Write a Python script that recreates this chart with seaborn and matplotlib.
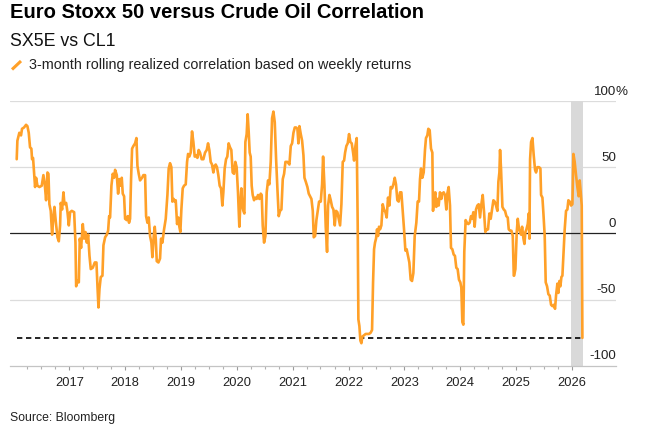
import matplotlib
matplotlib.use("Agg")
import numpy as np
import pandas as pd
import matplotlib.pyplot as plt
import matplotlib.dates as mdates
from matplotlib.lines import Line2D
from matplotlib.ticker import FixedLocator
import seaborn as sns

# ---------------- data ----------------
title = "Euro Stoxx 50 versus Crude Oil Correlation"
subtitle = "SX5E vs CL1"
legend_label = "3-month rolling realized correlation based on weekly returns"
source_note = "Source: Bloomberg"

# observation time (decimal year) and 3M rolling correlation (%)
time_years = [
    2016.060, 2016.072, 2016.107, 2016.137, 2016.155, 2016.191, 2016.227, 2016.251, 2016.275, 2016.298,
    2016.322, 2016.334, 2016.352, 2016.370, 2016.388, 2016.406, 2016.430, 2016.466, 2016.507, 2016.537,
    2016.561, 2016.585, 2016.609, 2016.627, 2016.644, 2016.668, 2016.692, 2016.716, 2016.734, 2016.758,
    2016.788, 2016.812, 2016.835, 2016.847, 2016.871, 2016.895, 2016.913, 2016.943, 2016.967, 2016.991,
    2017.014, 2017.044, 2017.086, 2017.110, 2017.122, 2017.146, 2017.170, 2017.187, 2017.211, 2017.241,
    2017.265, 2017.289, 2017.313, 2017.337, 2017.361, 2017.384, 2017.420, 2017.456, 2017.486, 2017.504,
    2017.522, 2017.540, 2017.563, 2017.593, 2017.611, 2017.641, 2017.671, 2017.695, 2017.713, 2017.730,
    2017.754, 2017.778, 2017.802,
    2017.820, 2017.850, 2017.874, 2017.897, 2017.921, 2017.939, 2017.957, 2017.981, 2017.999, 2018.029,
    2018.047, 2018.070, 2018.088, 2018.106, 2018.124, 2018.148, 2018.178, 2018.202, 2018.220, 2018.243,
    2018.267, 2018.303, 2018.327, 2018.357, 2018.375, 2018.399, 2018.422, 2018.446, 2018.470, 2018.488,
    2018.512, 2018.530, 2018.548, 2018.566, 2018.596, 2018.625, 2018.643, 2018.667, 2018.697, 2018.727,
    2018.757, 2018.780, 2018.804, 2018.828, 2018.846, 2018.870, 2018.888, 2018.906, 2018.930, 2018.953,
    2018.971, 2018.989, 2019.007, 2019.031, 2019.055, 2019.085, 2019.109, 2019.127, 2019.150, 2019.174,
    2019.198, 2019.222, 2019.246, 2019.270, 2019.294, 2019.317, 2019.341, 2019.371, 2019.401, 2019.431,
    2019.461, 2019.485, 2019.508, 2019.532, 2019.556, 2019.580, 2019.604,
    2019.622, 2019.645, 2019.669, 2019.693, 2019.717, 2019.741, 2019.759, 2019.783, 2019.807, 2019.830,
    2019.854, 2019.878, 2019.902, 2019.926, 2019.950, 2019.974, 2019.997, 2020.021, 2020.045, 2020.063,
    2020.081, 2020.099, 2020.117, 2020.135, 2020.153, 2020.176, 2020.194, 2020.212, 2020.230, 2020.248,
    2020.266, 2020.284, 2020.308, 2020.332, 2020.355, 2020.379, 2020.403, 2020.427, 2020.445, 2020.463,
    2020.487, 2020.511, 2020.534, 2020.558, 2020.582, 2020.606, 2020.630, 2020.654, 2020.678, 2020.702,
    2020.725, 2020.749, 2020.773, 2020.797, 2020.821, 2020.845, 2020.869, 2020.904, 2020.940, 2020.964,
    2020.988, 2021.012, 2021.036, 2021.060, 2021.083, 2021.101, 2021.119, 2021.143, 2021.167, 2021.191,
    2021.209, 2021.233, 2021.262, 2021.286, 2021.310, 2021.334, 2021.358, 2021.376, 2021.394,
    2021.400, 2021.423, 2021.447, 2021.471, 2021.501, 2021.525, 2021.543, 2021.567, 2021.590, 2021.614,
    2021.632, 2021.656, 2021.680, 2021.704, 2021.728, 2021.752, 2021.775, 2021.799, 2021.823, 2021.847,
    2021.871, 2021.895, 2021.919, 2021.937, 2021.960, 2021.984, 2022.008, 2022.032, 2022.056, 2022.080,
    2022.098, 2022.122, 2022.145, 2022.163, 2022.175, 2022.193, 2022.211, 2022.229, 2022.247, 2022.277,
    2022.306, 2022.336, 2022.366, 2022.396, 2022.420, 2022.438, 2022.456, 2022.473, 2022.491, 2022.509,
    2022.527, 2022.545, 2022.563, 2022.587, 2022.611, 2022.635, 2022.659, 2022.682, 2022.706, 2022.730,
    2022.754, 2022.778, 2022.802, 2022.826, 2022.849, 2022.873, 2022.897, 2022.921, 2022.945, 2022.969,
    2022.993, 2023.017, 2023.040, 2023.064, 2023.088, 2023.112, 2023.136, 2023.160, 2023.184,
    2023.213, 2023.237, 2023.261, 2023.279, 2023.297, 2023.321, 2023.345, 2023.368, 2023.386, 2023.410,
    2023.428, 2023.452, 2023.476, 2023.500, 2023.512, 2023.530, 2023.553, 2023.571, 2023.595, 2023.613,
    2023.637, 2023.661, 2023.679, 2023.703, 2023.726, 2023.750, 2023.768, 2023.792, 2023.816, 2023.834,
    2023.858, 2023.882, 2023.905, 2023.929, 2023.953, 2023.977, 2024.001, 2024.019, 2024.037, 2024.055,
    2024.072, 2024.096, 2024.120, 2024.144, 2024.168, 2024.192, 2024.210, 2024.234, 2024.257, 2024.281,
    2024.305, 2024.329, 2024.353, 2024.377, 2024.401, 2024.425, 2024.448, 2024.472, 2024.496, 2024.520,
    2024.544, 2024.568, 2024.592, 2024.615, 2024.639, 2024.663, 2024.681, 2024.699, 2024.711, 2024.729,
    2024.753, 2024.777, 2024.800, 2024.824, 2024.848, 2024.866, 2024.890, 2024.914, 2024.938, 2024.956,
    2024.962, 2024.985, 2025.009, 2025.027, 2025.051, 2025.069, 2025.087, 2025.105, 2025.129, 2025.147,
    2025.164, 2025.182, 2025.206, 2025.224, 2025.236, 2025.248, 2025.266, 2025.290, 2025.313, 2025.337,
    2025.355, 2025.379, 2025.409, 2025.433, 2025.445, 2025.469, 2025.487, 2025.510, 2025.528, 2025.552,
    2025.576, 2025.600, 2025.624, 2025.648, 2025.672, 2025.695, 2025.713, 2025.737, 2025.755, 2025.773,
    2025.791, 2025.809, 2025.827, 2025.851, 2025.868, 2025.892, 2025.916, 2025.934, 2025.958, 2025.982,
    2026.006, 2026.024, 2026.047, 2026.071, 2026.095, 2026.119, 2026.137, 2026.155, 2026.173, 2026.185,
]
correlation = [
    56, 70, 76, 74, 79, 80, 82, 81, 76, 65,
    64, 56, 57, 46, 35, 42, 36, 35, 36, 44,
    37, 25, 46, 45, 22, 17, -1, 13, 20, 9,
    -3, -6, 6, 23, 18, 31, 22, 23, 16, 6,
    16, 17, 16, -7, -40, -36, -37, -4, -11, 7,
    -4, 1, -7, -1, -17, -27, -26, -22, -22, -40,
    -56, -42, -33, -32, -9, -3, -1, 2, 13, 12,
    36, 45, 42,
    48, 44, 30, 41, 36, 42, 30, 28, 11, 10,
    13, 8, 11, 41, 64, 66, 68, 72, 51, 45,
    40, 42, 44, 44, 13, 8, 12, -2, -7, -18,
    -2, 5, -4, -21, -22, -19, -4, -7, 3, 11,
    29, 49, 53, 50, 24, 26, 24, 25, 7, 12,
    5, 1, 18, 34, 36, 37, 54, 60, 58, 61,
    77, 69, 58, 59, 57, 63, 61, 56, 56, 61,
    63, 68, 63, 54, 52, 46, 51,
    52, 50, 44, 36, 34, 21, 31, 49, 56, 58,
    68, 65, 63, 46, 45, 54, 50, 31, 5, 21,
    34, 21, 17, 15, 69, 75, 90, 77, 61, 58,
    36, 29, 25, 27, 26, 29, 26, 30, 29, 6,
    -7, -2, 31, 40, 37, 54, 87, 92, 84, 56,
    34, 13, 17, 18, 41, 45, 54, 54, 52, 66,
    68, 76, 80, 80, 79, 68, 81, 75, 70, 59,
    42, 39, 35, 30, 28, 26, 17, -3, -2,
    -2, 10, 17, 24, 24, 37, 58, 36, 5, -14,
    21, 29, 25, 20, 18, 6, 17, 16, 11, 6,
    22, 54, 55, 61, 66, 68, 75, 69, 68, 61,
    55, 66, 72, 6, -65, -70, -81, -83, -78, -77,
    -76, -76, -76, -75, -73, -37, -12, -7, -4, 3,
    -2, 5, 3, 6, 22, 18, 16, 12, 27, 21,
    35, 34, 37, 42, 37, 25, 24, 31, 31, 17,
    3, -13, -12, -17, -22, -35, -36, -30, -2,
    8, 24, 24, 41, 49, 42, 46, 63, 72, 74,
    79, 78, 64, 61, 17, 26, 31, 20, 26, 21,
    31, 26, 30, 31, 29, 18, 30, 35, 21, -11,
    -12, -16, -17, -26, -27, -35, -37, -41, -67, -69,
    -14, 10, 8, 7, 8, 13, 11, 16, 5, 18,
    21, 22, 12, 22, 29, 16, 1, 3, 3, 15,
    11, 18, 25, 24, 21, 17, 39, 46, 63, 48,
    20, 18, 17, 13, 12, 3, 2, 2, -2, -32,
    -32, -27, 1, 11, 3, 1, -1, 5, -4, -8,
    1, 3, 7, 15, -4, 56, 69, 72, 59, 48,
    46, 50, 50, 49, 29, 27, 15, -2, -37, -40,
    -46, -47, -54, -55, -54, -57, -47, -38, -45, -36,
    -40, -33, -32, -12, 3, 17, 18, 25, 24, 21,
    22, 60, 54, 44, 35, 28, 40, 31, 21, -79,
]
latest_value = -79
highlight_period = [2025.98, 2026.19]
y_tick_values = [100, 50, 0, -50, -100]
y_tick_labels = ["100", "50", "0", "-50", "-100"]
year_labels = list(range(2017, 2027))


def to_dt(y):
    yr = int(np.floor(y))
    start = pd.Timestamp(yr, 1, 1)
    end = pd.Timestamp(yr + 1, 1, 1)
    return start + (end - start) * (y - yr)


df = pd.DataFrame({"date": [to_dt(t) for t in time_years], "corr": correlation})

# ---------------- style ----------------
sns.set_theme(style="white")
plt.rcParams["font.family"] = ["Liberation Sans", "DejaVu Sans"]

W, H = 658, 434
fig = plt.figure(figsize=(W / 100, H / 100), dpi=100)
fig.patch.set_facecolor("white")

ax_left, ax_right, ax_top, ax_bottom = 10, 616, 101, 365.7
ax = fig.add_axes([ax_left / W, 1 - ax_bottom / H, (ax_right - ax_left) / W, (ax_bottom - ax_top) / H])
ax.set_facecolor("white")

orange = "#FFA028"

# highlight band
ax.axvspan(to_dt(highlight_period[0]), to_dt(highlight_period[1]), color="#d9d9d9", lw=0, zorder=2)

# gridlines
for v in y_tick_values:
    if v == 0:
        ax.axhline(v, color="#222222", lw=0.9, zorder=4)
    elif v != -100:
        ax.axhline(v, color="#dcdcdc", lw=0.9, zorder=1)

# latest-level dashed line
ax.hlines(latest_value, df["date"].min(), df["date"].max(), colors="black",
          linestyles=(0, (3.2, 2.2)), lw=1.2, zorder=4)

sns.lineplot(data=df, x="date", y="corr", ax=ax, color=orange, lw=1.9, zorder=5,
             sort=True, estimator=None)
for ln in ax.lines:
    ln.set_solid_joinstyle("round")

ax.set_ylim(-100, 100)
ax.set_xlim(to_dt(2015.94), to_dt(2026.787))
ax.set_xlabel("")
ax.set_ylabel("")
ax.set_yticks([])

for s in ["top", "left", "right"]:
    ax.spines[s].set_visible(False)
ax.spines["bottom"].set_color("#c4c4c4")
ax.spines["bottom"].set_linewidth(0.9)
ax.spines["bottom"].set_zorder(3)

# x ticks
major = [mdates.date2num(pd.Timestamp(y, 1, 1)) for y in year_labels]
minor = [mdates.date2num(pd.Timestamp(y, m, 1)) for y in range(2016, 2026) for m in (4, 7, 10)]
ax.xaxis.set_major_locator(FixedLocator(major))
ax.xaxis.set_minor_locator(FixedLocator(minor))
ax.set_xticklabels([str(y) for y in year_labels])
ax.tick_params(axis="x", which="major", direction="out", length=3.2, width=0.8, color="#9a9a9a",
               labelsize=9.3, labelcolor="#222222", pad=5, bottom=True)
ax.tick_params(axis="x", which="minor", direction="out", length=2.0, width=0.8, color="#b0b0b0", bottom=True)

# right-side value labels, sitting above their gridlines
for v, lab in zip(y_tick_values, y_tick_labels):
    ax.annotate(lab, xy=(1, v), xycoords=("axes fraction", "data"), xytext=(0, 4.6),
                textcoords="offset points", ha="right", va="baseline", fontsize=9.6,
                color="#222222", annotation_clip=False)
ax.annotate("%", xy=(1, 100), xycoords=("axes fraction", "data"), xytext=(0, 4.6),
            textcoords="offset points", ha="left", va="baseline", fontsize=9.6,
            color="#222222", annotation_clip=False)

# titles
fig.text(10 / W, 1 - 17.5 / H, title, fontsize=14.5, fontweight="bold", color="black", va="baseline")
fig.text(10 / W, 1 - 45.5 / H, subtitle, fontsize=12.8, color="#111111", va="baseline")

# legend
fig.add_artist(Line2D([12 / W, 21 / W], [1 - 69.5 / H, 1 - 61 / H], color=orange, lw=2.2,
                      solid_capstyle="butt", transform=fig.transFigure))
fig.text(29 / W, 1 - 68.8 / H, legend_label, fontsize=10.4, color="#222222", va="baseline")

# source
fig.text(10 / W, 1 - 420.5 / H, source_note, fontsize=8.8, color="#222222", va="baseline")

fig.savefig("out.png", dpi=100, facecolor="white")
